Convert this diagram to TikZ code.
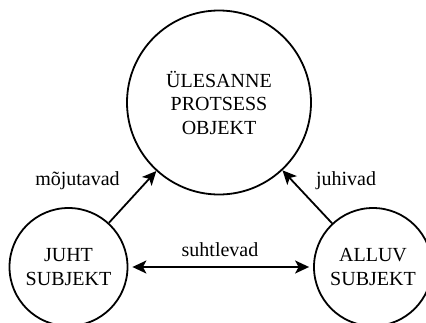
\documentclass[tikz,border=0pt]{standalone}
\usepackage{fontspec}
\setmainfont{Liberation Serif}
\usetikzlibrary{arrows.meta}
\begin{document}
\begin{tikzpicture}[x=1pt,y=-1pt,
  every node/.style={font=\fontsize{20}{23.5}\selectfont},
  bubble/.style={draw,circle,line width=1.8pt,inner sep=0pt,align=center},
  tip/.tip={Stealth[length=14pt,width=13pt,inset=3.5pt]},
  link/.style={line width=1.8pt,-tip},
  lab/.style={anchor=base,inner sep=0pt}]
\useasboundingbox (0,0) rectangle (426,322);
\node[bubble,minimum size=184pt] (B) at (219,102.5) {ÜLESANNE\\PROTSESS\\OBJEKT};
\node[bubble,minimum size=118pt] (L) at (68.5,267) {JUHT\\SUBJEKT};
\node[bubble,minimum size=118pt] (R) at (373,267) {ALLUV\\SUBJEKT};
\draw[link] (L) -- (B);
\draw[link] (R) -- (B);
\draw[link,tip-tip,shorten <=4pt,shorten >=4pt] (L) -- (R);
\node[lab] (m) at (77.5,185) {mõjutavad};
\node[lab] (j) at (346,185) {juhivad};
\node[lab] (s) at (220,256) {suhtlevad};
\end{tikzpicture}
\end{document}
